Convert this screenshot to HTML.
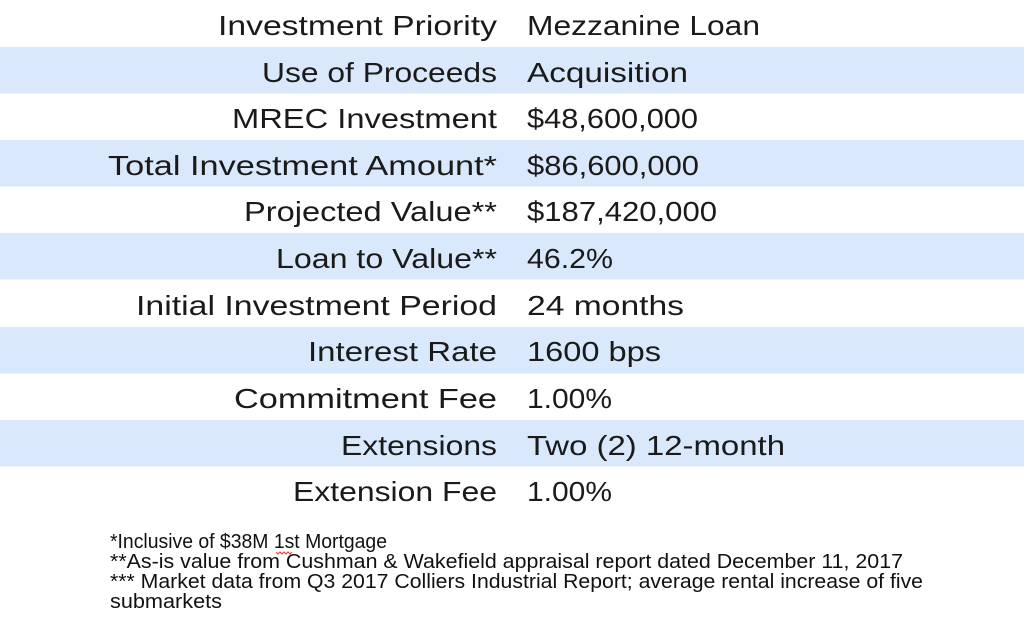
<!DOCTYPE html>
<html><head><meta charset="utf-8"><style>
html,body{margin:0;padding:0;background:#fff;width:1024px;height:629px;overflow:hidden}
svg{display:block}
.l{font-family:"Liberation Sans",sans-serif;font-size:28px;fill:#1a1a1a}
.f{font-family:"Liberation Sans",sans-serif;font-size:20px;fill:#111}
</style></head><body>
<svg width="1024" height="629" viewBox="0 0 1024 629">
<g fill="#d9e9fb">
<rect x="0" y="47" width="1024" height="46.5"/>
<rect x="0" y="140" width="1024" height="46.5"/>
<rect x="0" y="233" width="1024" height="46.5"/>
<rect x="0" y="327" width="1024" height="46.5"/>
<rect x="0" y="420" width="1024" height="46.5"/>
</g>
<g class="l" text-anchor="end">
<text x="497" y="35" textLength="279" lengthAdjust="spacingAndGlyphs">Investment Priority</text>
<text x="497" y="82" textLength="235" lengthAdjust="spacingAndGlyphs">Use of Proceeds</text>
<text x="497" y="128" textLength="265" lengthAdjust="spacingAndGlyphs">MREC Investment</text>
<text x="497" y="175" textLength="389" lengthAdjust="spacingAndGlyphs">Total Investment Amount*</text>
<text x="497" y="221" textLength="253" lengthAdjust="spacingAndGlyphs">Projected Value**</text>
<text x="497" y="268" textLength="221" lengthAdjust="spacingAndGlyphs">Loan to Value**</text>
<text x="497" y="315" textLength="361" lengthAdjust="spacingAndGlyphs">Initial Investment Period</text>
<text x="497" y="361" textLength="189" lengthAdjust="spacingAndGlyphs">Interest Rate</text>
<text x="497" y="408" textLength="263" lengthAdjust="spacingAndGlyphs">Commitment Fee</text>
<text x="497" y="455" textLength="156" lengthAdjust="spacingAndGlyphs">Extensions</text>
<text x="497" y="501" textLength="204" lengthAdjust="spacingAndGlyphs">Extension Fee</text>
</g>
<g class="l">
<text x="527" y="35" textLength="233" lengthAdjust="spacingAndGlyphs">Mezzanine Loan</text>
<text x="527" y="82" textLength="161" lengthAdjust="spacingAndGlyphs">Acquisition</text>
<text x="527" y="128" textLength="171" lengthAdjust="spacingAndGlyphs">$48,600,000</text>
<text x="527" y="175" textLength="172" lengthAdjust="spacingAndGlyphs">$86,600,000</text>
<text x="527" y="221" textLength="190" lengthAdjust="spacingAndGlyphs">$187,420,000</text>
<text x="527" y="268" textLength="86" lengthAdjust="spacingAndGlyphs">46.2%</text>
<text x="527" y="315" textLength="157" lengthAdjust="spacingAndGlyphs">24 months</text>
<text x="527" y="361" textLength="134" lengthAdjust="spacingAndGlyphs">1600 bps</text>
<text x="527" y="408" textLength="85" lengthAdjust="spacingAndGlyphs">1.00%</text>
<text x="527" y="455" textLength="258" lengthAdjust="spacingAndGlyphs">Two (2) 12-month</text>
<text x="527" y="501" textLength="85" lengthAdjust="spacingAndGlyphs">1.00%</text>
</g>
<g class="f">
<text x="110" y="548" textLength="277" lengthAdjust="spacingAndGlyphs">*Inclusive of $38M 1st Mortgage</text>
<text x="110" y="568" textLength="793" lengthAdjust="spacingAndGlyphs">**As-is value from Cushman &amp; Wakefield appraisal report dated December 11, 2017</text>
<text x="110" y="588" textLength="813" lengthAdjust="spacingAndGlyphs">*** Market data from Q3 2017 Colliers Industrial Report; average rental increase of five</text>
<text x="110" y="608" textLength="112" lengthAdjust="spacingAndGlyphs">submarkets</text>
</g>
<path d="M276 552 l2 2 l2 -2 l2 2 l2 -2 l2 2 l2 -2 l2 2 l2 -2" stroke="#e33" stroke-width="1" fill="none"/>
</svg>
</body></html>
